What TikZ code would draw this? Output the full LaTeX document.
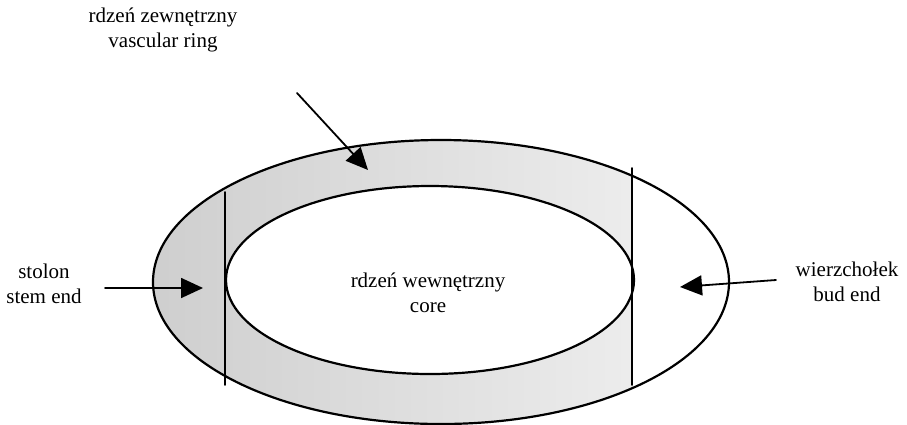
\documentclass[tikz,border=0pt]{standalone}
\usepackage{fontspec}
\setmainfont{Liberation Serif}
\usetikzlibrary{arrows.meta}

\begin{document}
\begin{tikzpicture}[x=1pt,y=-1pt, >={Triangle[length=22pt,width=20pt]}, font=\fontsize{21}{25}\selectfont, line join=round, line cap=round]
	\useasboundingbox (0,0) rectangle (907,424);
	% [Szkielet - Warstwa 1]
	\coordinate (O) at (441,282);
	\coordinate (I) at (430,280);
	\coordinate (Ltop) at (225,192);
	\coordinate (Lbot) at (225,385);
	\coordinate (Rtop) at (632,168);
	\coordinate (Rbot) at (632,385);
	
	% [Dodatki: Cieniowanie pierścienia - Warstwa 2.1]
	\begin{scope}
		\clip (0,0) rectangle (632,424);
		\fill[even odd rule, left color=gray!38, right color=gray!10]
			(O) ellipse [x radius=288, y radius=142]
			(I) ellipse [x radius=204, y radius=94];
	\end{scope}
	
	% [Kontury - Warstwa 2]
	\draw[line width=2.2pt] (O) ellipse [x radius=288, y radius=142];
	\draw[line width=2.2pt] (I) ellipse [x radius=204, y radius=94];
	\draw[line width=1.6pt] (Ltop) -- (Lbot);
	\draw[line width=1.6pt] (Rtop) -- (Rbot);
	
	% [Etykiety - Warstwa 3]
	\node[align=center] (ring) at (163,30) {rdzeń zewnętrzny\\vascular ring};
	\node[align=center] (stolon) at (44,284) {stolon\\stem end};
	\node[align=center] (bud) at (847,282) {wierzchołek\\bud end};
	\node[align=center] (core) at (428,293) {rdzeń wewnętrzny\\core};
	
	% [Strzałki - Warstwa 4]
	\coordinate (ringS) at (297,93);
	\coordinate (ringE) at (368,170);
	\coordinate (stolonS) at (105,288);
	\coordinate (stolonE) at (203,288);
	\coordinate (budS) at (776,280);
	\coordinate (budE) at (680,287);
	\draw[->, line width=1.8pt] (ringS) -- (ringE);
	\draw[->, line width=1.8pt] (stolonS) -- (stolonE);
	\draw[->, line width=1.8pt] (budS) -- (budE);
\end{tikzpicture}
\end{document}
